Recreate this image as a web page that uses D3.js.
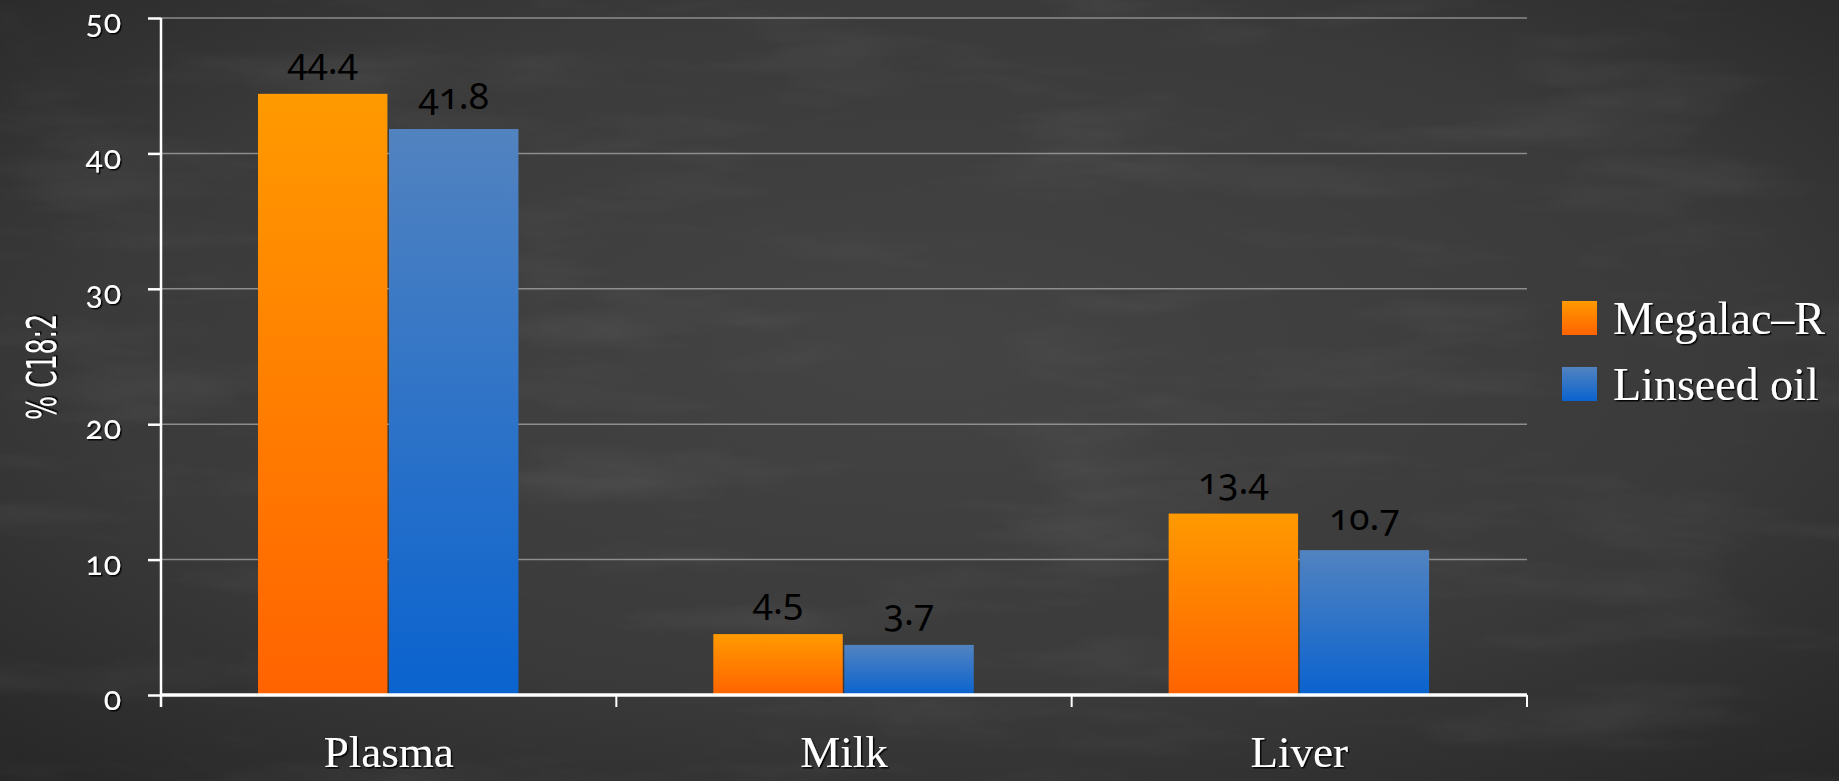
<!DOCTYPE html>
<html>
<head>
<meta charset="utf-8">
<script src="https://cdn.jsdelivr.net/npm/d3@7"></script>
<style>
  html, body { margin: 0; padding: 0; background: #363636; overflow: hidden; }
  svg { display: block; }
</style>
</head>
<body>
<svg id="drawing_region"></svg>
<script>
// data
const categories = ['Plasma', 'Milk', 'Liver'];
const seriesNames = ['Megalac–R', 'Linseed oil'];
const megalac = [44.4, 4.5, 13.4];
const linseed = [41.8, 3.7, 10.7];
const yTicks = [0, 10, 20, 30, 40, 50];
const yLabel = '% C18:2';

const data = categories.map((c, i) => ({ cat: c, values: [megalac[i], linseed[i]] }));

const config = {
    width: 1839,
    height: 781,
    margin: { top: 18, right: 312, bottom: 86, left: 161 }
};

const svg = d3.select('#drawing_region')
    .attr('width', config.width)
    .attr('height', config.height);

const defs = svg.append('defs');

// chalkboard background
const bg = defs.append('radialGradient').attr('id', 'bg').attr('cx', '50%').attr('cy', '45%').attr('r', '75%');
bg.append('stop').attr('offset', '0%').attr('stop-color', '#444444');
bg.append('stop').attr('offset', '60%').attr('stop-color', '#3a3a3a');
bg.append('stop').attr('offset', '100%').attr('stop-color', '#262626');

const noise = defs.append('filter').attr('id', 'noise').attr('x', 0).attr('y', 0).attr('width', '100%').attr('height', '100%');
noise.append('feTurbulence').attr('type', 'fractalNoise').attr('baseFrequency', '0.004 0.02').attr('numOctaves', 5).attr('seed', 3);
noise.append('feColorMatrix').attr('type', 'matrix')
    .attr('values', '0 0 0 0 1  0 0 0 0 1  0 0 0 0 1  0.3 0.3 0.3 0 -0.45');

const shadow = defs.append('filter').attr('id', 'shadow').attr('x', '-10%').attr('y', '-10%').attr('width', '130%').attr('height', '140%');
shadow.append('feDropShadow').attr('dx', 1.5).attr('dy', 1.5).attr('stdDeviation', 0.6)
    .attr('flood-color', '#000').attr('flood-opacity', 0.9);

const barColors = [['#ff9a00', '#ff6300'], ['#5283c0', '#0a63cf']];
barColors.forEach((c, i) => {
    const g = defs.append('linearGradient').attr('id', 'grad' + i).attr('x1', 0).attr('y1', 0).attr('x2', 0).attr('y2', 1);
    g.append('stop').attr('offset', '0%').attr('stop-color', c[0]);
    g.append('stop').attr('offset', '100%').attr('stop-color', c[1]);
});

svg.append('rect').attr('width', config.width).attr('height', config.height).attr('fill', 'url(#bg)');
svg.append('rect').attr('width', config.width).attr('height', config.height).attr('filter', 'url(#noise)').attr('opacity', 0.25);

const inner_width = config.width - config.margin.left - config.margin.right;
const inner_height = config.height - config.margin.top - config.margin.bottom;

const chart = svg.append('g')
    .attr('transform', `translate(${config.margin.left}, ${config.margin.top})`);

const xscale = d3.scaleBand().domain(categories).range([0, inner_width]);
const bw = xscale.bandwidth();
const xinner = d3.scaleBand().domain(d3.range(seriesNames.length))
    .range([bw * 0.213, bw * 0.785]).paddingInner(0.012);
const yscale = d3.scaleLinear().domain([0, 50]).range([inner_height, 0]);

// grid lines
chart.append('g')
    .selectAll('line')
    .data(yTicks.filter(t => t > 0))
    .join('line')
    .attr('x1', 0)
    .attr('x2', inner_width)
    .attr('y1', d => yscale(d))
    .attr('y2', d => yscale(d))
    .attr('stroke', '#a8a8a8')
    .attr('stroke-opacity', 0.75)
    .attr('stroke-width', 1.5);

// bars
const groups = chart.append('g')
    .selectAll('g')
    .data(data)
    .join('g')
    .attr('transform', d => `translate(${xscale(d.cat)}, 0)`);

groups.selectAll('rect')
    .data(d => d.values)
    .join('rect')
    .attr('x', (d, i) => xinner(i))
    .attr('width', xinner.bandwidth())
    .attr('y', d => yscale(d))
    .attr('height', d => yscale(0) - yscale(d))
    .attr('fill', (d, i) => `url(#grad${i})`);

groups.selectAll('text')
    .data(d => d.values)
    .join('text')
    .attr('x', (d, i) => xinner(i) + xinner.bandwidth() / 2)
    .attr('y', d => yscale(d) - 20)
    .attr('text-anchor', 'middle')
    .attr('font-family', '"Noto Sans", "DejaVu Sans", sans-serif')
    .attr('font-size', '37px')
    .style('font-variant-numeric', 'oldstyle-nums')
    .attr('fill', '#000')
    .text(d => d3.format('.1f')(d));

// y axis
const yaxis = d3.axisLeft(yscale).tickValues(yTicks).tickSize(13).tickPadding(26).tickFormat(d3.format('d'));
const yaxis_group = chart.append('g').call(yaxis);
yaxis_group.select('.domain').remove();
yaxis_group.selectAll('line').attr('stroke', '#fff').attr('stroke-width', 2.5);
yaxis_group.selectAll('text')
    .attr('fill', '#fff')
    .attr('font-family', 'Lato, "Noto Sans", sans-serif')
    .attr('font-size', '32px')
    .attr('letter-spacing', '1px')
    .attr('dy', '0.46em')
    .style('font-variant-numeric', 'oldstyle-nums')
    .attr('filter', 'url(#shadow)');
yaxis_group.append('line')
    .attr('x1', 0).attr('x2', 0)
    .attr('y1', 0).attr('y2', inner_height + 12)
    .attr('stroke', '#fff').attr('stroke-width', 2.5);

// x axis
const xaxis = d3.axisBottom(xscale).tickSize(0).tickPadding(0);
const xaxis_group = chart.append('g')
    .attr('transform', `translate(0, ${inner_height})`)
    .call(xaxis);
xaxis_group.select('.domain').remove();
xaxis_group.append('line')
    .attr('x1', 0).attr('x2', inner_width)
    .attr('stroke', '#fff').attr('stroke-width', 3.5);
xaxis_group.selectAll('.edge')
    .data(categories.map(c => xscale(c)).concat([inner_width]))
    .join('line')
    .attr('class', 'edge')
    .attr('x1', d => d).attr('x2', d => d)
    .attr('y1', 0).attr('y2', 12)
    .attr('stroke', '#fff').attr('stroke-width', 2);
xaxis_group.selectAll('.tick text')
    .attr('y', 72)
    .attr('dy', 0)
    .attr('fill', '#fff')
    .attr('font-family', '"Liberation Serif", "DejaVu Serif", serif')
    .attr('font-size', '45px')
    .attr('filter', 'url(#shadow)');

// y label
svg.append('text')
    .attr('transform', 'translate(42, 367) rotate(-90)')
    .attr('text-anchor', 'middle')
    .attr('dy', '0.35em')
    .attr('fill', '#fff')
    .attr('font-family', '"DejaVu Sans", sans-serif')
    .attr('font-size', '40px')
    .attr('textLength', 106)
    .attr('lengthAdjust', 'spacingAndGlyphs')
    .attr('filter', 'url(#shadow)')
    .text(yLabel);

// legend
const legend = svg.append('g')
    .attr('transform', 'translate(1562, 301)');
const items = legend.selectAll('g')
    .data(seriesNames)
    .join('g')
    .attr('transform', (d, i) => `translate(0, ${i * 66})`);
items.append('rect')
    .attr('width', 35).attr('height', 34)
    .attr('fill', (d, i) => `url(#grad${i})`);
items.append('text')
    .attr('x', 51).attr('y', 33)
    .attr('fill', '#fff')
    .attr('font-family', '"Liberation Serif", "DejaVu Serif", serif')
    .attr('font-size', '46px')
    .attr('filter', 'url(#shadow)')
    .text(d => d);
</script>
</body>
</html>
